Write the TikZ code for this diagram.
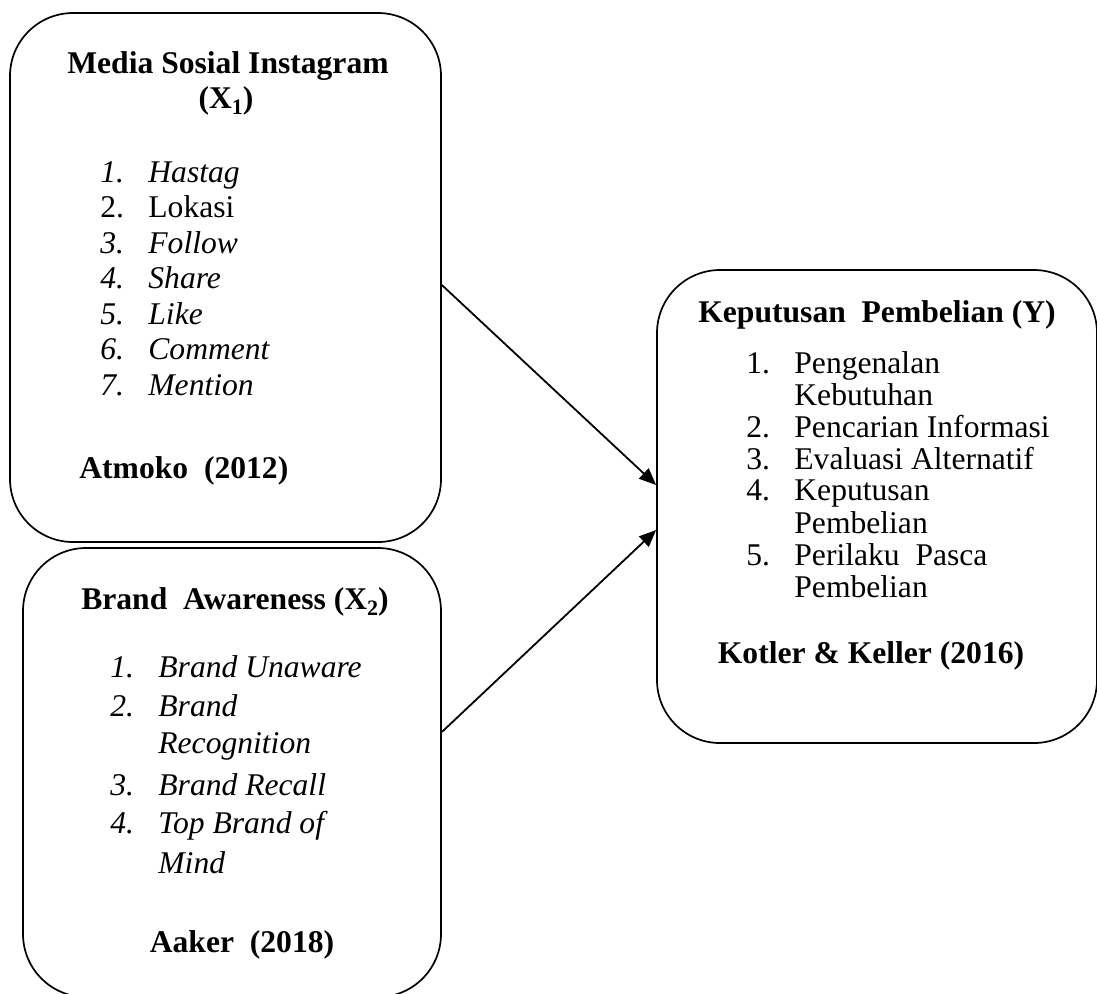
\documentclass[tikz,border=0pt]{standalone}
\usepackage{fontspec}
\setmainfont{Liberation Serif}
\usetikzlibrary{arrows.meta}
\newcommand{\sbs}[1]{\raisebox{-0.45ex}{\fontsize{11}{11}\selectfont #1}}
\newcommand{\fs}{\fontsize{15.8}{19}\selectfont}
\begin{document}
\begin{tikzpicture}[x=0.5pt,y=-0.5pt,
  box/.style={draw,line width=0.85pt,rounded corners=31.5pt,inner sep=0pt},
  txt/.style={inner sep=0pt,anchor=base,font=\fs},
  lst/.style={txt,anchor=base west},
  conn/.style={line width=0.9pt,-{Triangle[length=8.5pt,width=7pt]}}]
\useasboundingbox (0,0) rectangle (1097,993);
% boxes
\node[box,minimum width=215.5pt,minimum height=264.5pt] (b1) at (225.5,277.5) {};
\node[box,minimum width=209pt,minimum height=224.5pt] (b2) at (232,772.5) {};
\node[box,minimum width=220pt,minimum height=236.5pt] (b3) at (877,506.5) {};
% box 1 text
\node[txt,font=\fs\bfseries] (t1) at (228,73) {Media Sosial Instagram};
\node[txt,font=\fs\bfseries] (t1b) at (226,108) {(X\sbs{1})};
\node[lst] (n11) at (100,182) {\itshape 1.};
\node[lst] (i11) at (148,182) {\itshape Hastag};
\node[lst] (n12) at (100,217.5) {2.};
\node[lst] (i12) at (148,217.5) {Lokasi};
\node[lst] (n13) at (100,253) {\itshape 3.};
\node[lst] (i13) at (148,253) {\itshape Follow};
\node[lst] (n14) at (100,288.5) {\itshape 4.};
\node[lst] (i14) at (148,288.5) {\itshape Share};
\node[lst] (n15) at (100,324) {\itshape 5.};
\node[lst] (i15) at (148,324) {\itshape Like};
\node[lst] (n16) at (100,359.5) {\itshape 6.};
\node[lst] (i16) at (148,359.5) {\itshape Comment};
\node[lst] (n17) at (100,395) {\itshape 7.};
\node[lst] (i17) at (148,395) {\itshape Mention};
\node[lst,font=\fs\bfseries] (s1) at (79,478) {Atmoko\ \ (2012)};
% box 2 text
\node[txt,font=\fs\bfseries] (t2) at (235,609) {Brand\ \ Awareness (X\sbs{2})};
\node[lst] (n21) at (110,677) {\itshape 1.};
\node[lst] (i21) at (158,677) {\itshape Brand Unaware};
\node[lst] (n22) at (110,716) {\itshape 2.};
\node[lst] (i22) at (158,716) {\itshape Brand};
\node[lst] (i22b) at (158,753) {\itshape Recognition};
\node[lst] (n23) at (110,795) {\itshape 3.};
\node[lst] (i23) at (158,795) {\itshape Brand Recall};
\node[lst] (n24) at (110,833) {\itshape 4.};
\node[lst] (i24) at (158,833) {\itshape Top Brand of};
\node[lst] (i24b) at (158,873) {\itshape Mind};
\node[txt,font=\fs\bfseries] (s2) at (242,952) {Aaker\ \ (2018)};
% box 3 text
\node[txt,font=\fs\bfseries] (t3) at (877,322) {Keputusan\ \ Pembelian (Y)};
\node[lst] (n31) at (746,373) {1.};
\node[lst] (i31) at (794,373) {Pengenalan};
\node[lst] (i31b) at (794,405) {Kebutuhan};
\node[lst] (n32) at (746,437) {2.};
\node[lst] (i32) at (794,437) {Pencarian Informasi};
\node[lst] (n33) at (746,469) {3.};
\node[lst] (i33) at (794,469) {Evaluasi Alternatif};
\node[lst] (n34) at (746,500) {4.};
\node[lst] (i34) at (794,500) {Keputusan};
\node[lst] (i34b) at (794,533) {Pembelian};
\node[lst] (n35) at (746,565) {5.};
\node[lst] (i35) at (794,565) {Perilaku\ \ Pasca};
\node[lst] (i35b) at (794,597) {Pembelian};
\node[txt,font=\fs\bfseries] (s3) at (871,663) {Kotler \& Keller (2016)};
% connectors
\draw[conn] ([yshift=-3.75pt]b1.east) -- ([yshift=10.75pt]b3.west);
\draw[conn] ([yshift=20.25pt]b2.east) -- ([yshift=-11.75pt]b3.west);
\end{tikzpicture}
\end{document}
